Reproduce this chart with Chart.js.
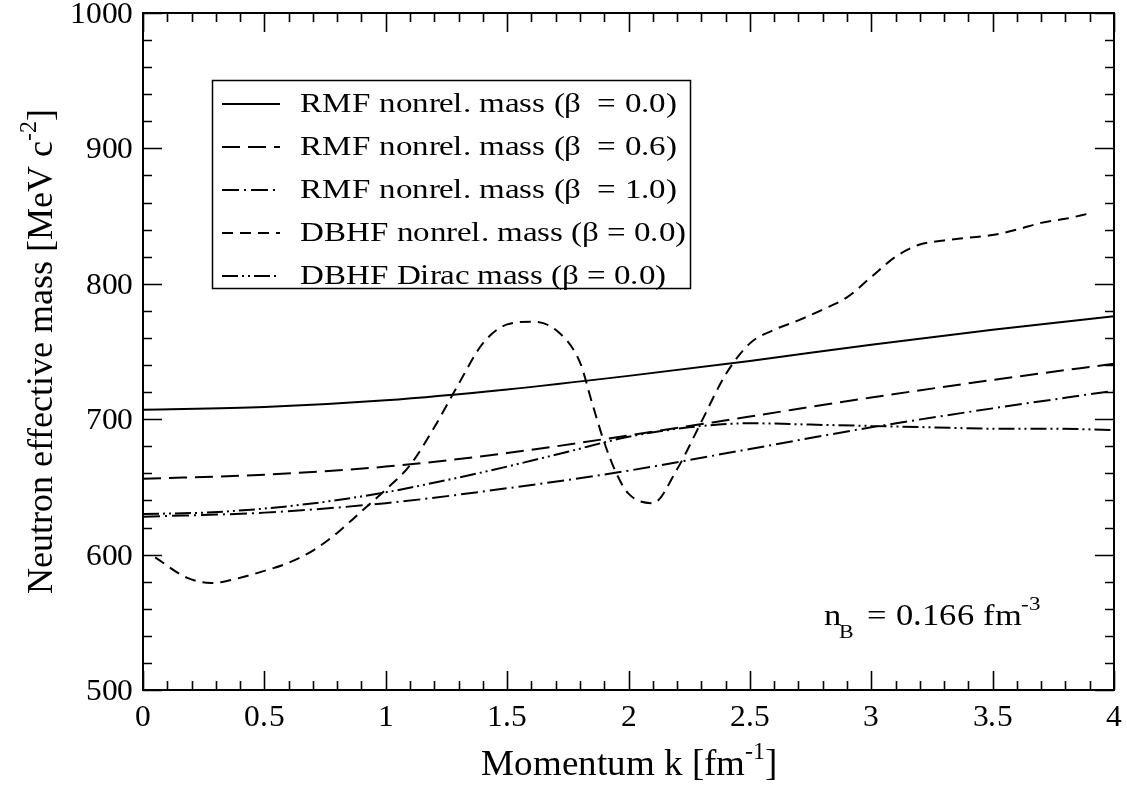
<!DOCTYPE html>
<html>
<head>
<meta charset="utf-8">
<script src="https://cdn.jsdelivr.net/npm/chart.js@4/dist/chart.umd.min.js"></script>
<style>
  @font-face {
    font-family: 'PlotSerif';
    src: local('Liberation Serif'), local('LiberationSerif'), local('LiberationSerif-Regular'),
         local('Times New Roman'), local('Nimbus Roman'), local('Tinos');
  }
  html, body { margin: 0; padding: 0; background: #fff; }
  #wrap { width: 1127px; height: 786px; }
  .probe { font-family: 'PlotSerif'; position: absolute; left: -999px; }
</style>
</head>
<body>
<span class="probe">Rx</span>
<div id="wrap"><canvas id="massChart" width="1127" height="786"></canvas></div>
<script>
// ---- data ----
const kRmf = [0, 0.5, 1, 1.5, 2, 2.5, 3, 3.5, 4];
const rmfBeta00 = [707, 709, 714, 722, 732, 743, 755, 766, 776];
const rmfBeta06 = [656, 659, 665, 675, 688, 702, 716, 729, 741];
const rmfBeta10 = [628, 631, 638, 649, 662, 678, 694, 708, 721];

const kDirac = [0, 0.25, 0.5, 0.75, 1, 1.25, 1.5, 1.75, 2, 2.25, 2.5, 2.75, 3, 3.25, 3.5, 3.75, 4];
const dbhfDirac = [630, 631, 634, 639, 646, 655, 665, 676, 687, 694, 697, 696, 695, 694, 693, 693, 692];

const kDbhf = [0.05, 0.18, 0.28, 0.38, 0.5, 0.6, 0.7, 0.8, 0.9, 1.0, 1.1, 1.2, 1.3, 1.4, 1.5, 1.6, 1.7, 1.8,
               1.85, 1.9, 1.95, 2.0, 2.1, 2.2, 2.3, 2.4, 2.5, 2.6, 2.7, 2.8, 2.9, 3.0, 3.1, 3.2, 3.3, 3.4,
               3.5, 3.6, 3.7, 3.8, 3.9];
const dbhfNonrel = [598, 583, 579, 582, 588, 594, 603, 616, 632, 648, 666, 694, 726, 756, 770, 772, 766, 742,
                    712, 683, 660, 645, 638, 663, 698, 733, 756, 766, 773, 781, 790, 805, 820, 829, 832, 834,
                    836, 840, 845, 848, 852];

const xTicks = [0, 0.5, 1, 1.5, 2, 2.5, 3, 3.5, 4];
const xTickLabels = ['0', '0.5', '1', '1.5', '2', '2.5', '3', '3.5', '4'];
const yTicks = [500, 600, 700, 800, 900, 1000];
const yTickLabels = ['500', '600', '700', '800', '900', '1000'];

const seriesLabels = [
    'RMF nonrel. mass (\u03B2  = 0.0)',
    'RMF nonrel. mass (\u03B2  = 0.6)',
    'RMF nonrel. mass (\u03B2  = 1.0)',
    'DBHF nonrel. mass (\u03B2 = 0.0)',
    'DBHF Dirac mass (\u03B2 = 0.0)'
];

const SERIF = "PlotSerif, 'Liberation Serif', serif";

function toPoints(xs, ys) {
    return xs.map((x, i) => ({ x: x, y: ys[i] }));
}

// draw text made of pieces [text, size, dy], horizontally stretched by sx
function richText(ctx, parts, x, y, align, sx) {
    let widths = parts.map(p => {
        ctx.font = p[1] + 'px ' + SERIF;
        return ctx.measureText(p[0]).width * sx;
    });
    let total = widths.reduce((a, b) => a + b, 0);
    let cx = x;
    if (align === 'center') cx = x - total / 2;
    if (align === 'right') cx = x - total;
    ctx.textAlign = 'left';
    ctx.textBaseline = 'alphabetic';
    parts.forEach((p, i) => {
        ctx.save();
        ctx.font = p[1] + 'px ' + SERIF;
        ctx.translate(cx, y + (p[2] || 0));
        ctx.scale(sx, 1);
        ctx.fillText(p[0], 0, 0);
        ctx.restore();
        cx += widths[i];
    });
}

const framePlugin = {
    id: 'xmgrFrame',
    afterDraw(chart) {
        const ctx = chart.ctx;
        const a = chart.chartArea;
        const xs = chart.scales.x;
        const ys = chart.scales.y;
        ctx.save();
        ctx.fillStyle = '#000';
        ctx.strokeStyle = '#000';

        // frame
        ctx.lineWidth = 2;
        ctx.strokeRect(a.left, a.top, a.right - a.left, a.bottom - a.top);

        // ticks on all four sides, pointing inward
        ctx.lineWidth = 1.6;
        ctx.beginPath();
        for (let i = 0; i <= 40; i++) {
            const v = i / 10;
            const px = Math.round(xs.getPixelForValue(v)) + 0.5;
            const len = (i % 5 === 0) ? 19 : 9;
            ctx.moveTo(px, a.bottom); ctx.lineTo(px, a.bottom - len);
            ctx.moveTo(px, a.top); ctx.lineTo(px, a.top + len);
        }
        for (let i = 0; i <= 25; i++) {
            const v = 500 + i * 20;
            const py = Math.round(ys.getPixelForValue(v)) + 0.5;
            const len = (i % 5 === 0) ? 19 : 9;
            ctx.moveTo(a.left, py); ctx.lineTo(a.left + len, py);
            ctx.moveTo(a.right, py); ctx.lineTo(a.right - len, py);
        }
        ctx.stroke();

        // tick labels
        xTicks.forEach((v, i) => {
            richText(ctx, [[xTickLabels[i], 30]], xs.getPixelForValue(v), a.bottom + 36, 'center', 1.05);
        });
        yTicks.forEach((v, i) => {
            richText(ctx, [[yTickLabels[i], 30]], a.left - 10, ys.getPixelForValue(v) + 10, 'right', 1.05);
        });

        // axis titles
        richText(ctx, [['Momentum k [fm', 37], ['-1', 24, -16], [']', 37]], 629, 775, 'center', 1.0);
        ctx.save();
        ctx.translate(52, 351);
        ctx.rotate(-Math.PI / 2);
        richText(ctx, [['Neutron effective mass [MeV c', 36], ['-2', 24, -16], [']', 36]], 0, 0, 'center', 1.0);
        ctx.restore();

        // density note
        richText(ctx, [['n', 30]], 824, 625, 'left', 1.15);
        richText(ctx, [['B', 19]], 839, 638, 'left', 1.15);
        richText(ctx, [['= 0.166 fm', 30], ['-3', 20, -15]], 867, 625, 'left', 1.15);

        // legend box
        ctx.lineWidth = 1.5;
        ctx.strokeRect(212.5, 80.5, 478, 208);
        chart.data.datasets.forEach((ds, i) => {
            const cy = 102 + i * 43;
            ctx.save();
            ctx.lineWidth = 2;
            ctx.setLineDash(ds.borderDash || []);
            ctx.beginPath();
            ctx.moveTo(222, cy + 2);
            ctx.lineTo(280, cy + 2);
            ctx.stroke();
            ctx.restore();
            richText(ctx, [[seriesLabels[i], 28]], 300, cy + 10, 'left', 1.18);
        });
        ctx.restore();
    }
};

function lineSet(label, data, dash) {
    return {
        label: label,
        data: data,
        borderColor: '#000',
        borderWidth: 2,
        borderDash: dash,
        pointRadius: 0,
        fill: false,
        cubicInterpolationMode: 'monotone'
    };
}

function buildChart() {
    new Chart(document.getElementById('massChart').getContext('2d'), {
        type: 'line',
        data: {
            datasets: [
                lineSet(seriesLabels[0], toPoints(kRmf, rmfBeta00), []),
                lineSet(seriesLabels[1], toPoints(kRmf, rmfBeta06), [18, 8]),
                lineSet(seriesLabels[2], toPoints(kRmf, rmfBeta10), [17, 5, 2, 5]),
                lineSet(seriesLabels[3], toPoints(kDbhf, dbhfNonrel), [11, 7]),
                lineSet(seriesLabels[4], toPoints(kDirac, dbhfDirac), [16, 4, 2, 4, 2, 4])
            ]
        },
        options: {
            responsive: false,
            animation: false,
            devicePixelRatio: 1,
            layout: {
                padding: { left: 143, right: 13, top: 13, bottom: 96 }
            },
            plugins: {
                legend: { display: false },
                tooltip: { enabled: false }
            },
            scales: {
                x: { type: 'linear', min: 0, max: 4, display: false },
                y: { type: 'linear', min: 500, max: 1000, display: false }
            }
        },
        plugins: [framePlugin]
    });
}

// make sure the serif face is ready before the canvas text is drawn
document.fonts.load("30px PlotSerif").then(buildChart, buildChart);
</script>
</body>
</html>
